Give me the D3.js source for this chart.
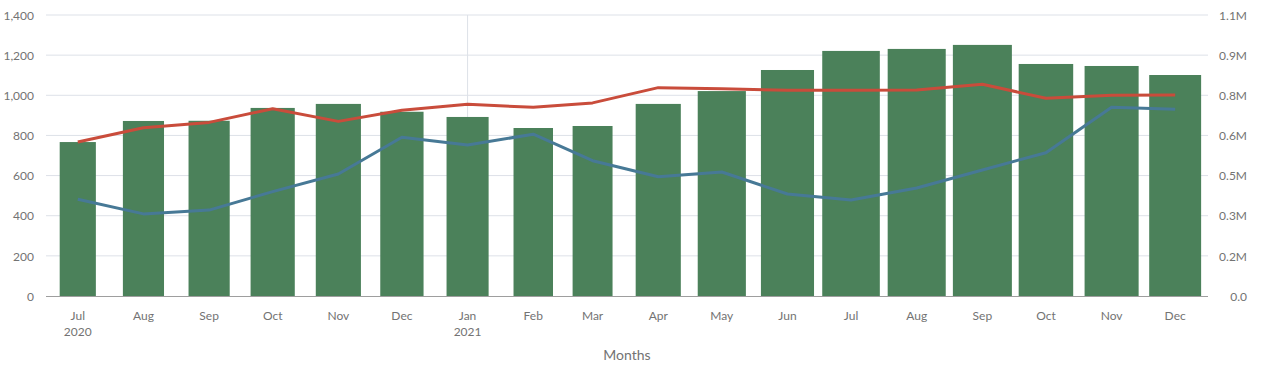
<!DOCTYPE html>
<html>
<head>
<meta charset="utf-8">
<script src="https://cdn.jsdelivr.net/npm/d3@7"></script>
<style>
  body { margin: 0; background: #fff; }
  svg text { font-family: Lato, "Open Sans", sans-serif; fill: #737373; }
</style>
</head>
<body>
<svg id="chart" width="1269" height="384"></svg>
<script>
// months (first day of each month)
const months = ["2020-07", "2020-08", "2020-09", "2020-10", "2020-11", "2020-12",
    "2021-01", "2021-02", "2021-03", "2021-04", "2021-05", "2021-06",
    "2021-07", "2021-08", "2021-09", "2021-10", "2021-11", "2021-12"];

// bar series (left axis), also drives bar width
const barValues = [767, 872, 873, 937, 957, 918, 892, 837, 847, 957, 1021, 1126,
    1221, 1231, 1251, 1156, 1146, 1101];

// red line
const redValues = [767, 838, 865, 933, 870, 925, 955, 940, 962, 1038, 1033, 1025,
    1025, 1026, 1055, 985, 1000, 1001];

// blue line
const blueValues = [482, 409, 428, 520, 608, 791, 752, 806, 674, 594, 618, 508,
    478, 538, 628, 714, 940, 930];

const leftTicks = [0, 200, 400, 600, 800, 1000, 1200, 1400];
const rightMax = 1100000;

const margin = {top: 15, right: 61, bottom: 88, left: 46};
const width = 1269, height = 384;
const parse = d3.timeParse("%Y-%m");
const dates = months.map(parse);
const day = 864e5;

const svg = d3.select("#chart");

const x = d3.scaleTime()
    .domain([new Date(+dates[0] - 15 * day), new Date(+dates[dates.length - 1] + 15.5 * day)])
    .range([margin.left, width - margin.right]);

const y = d3.scaleLinear()
    .domain([0, 1400])
    .range([height - margin.bottom, margin.top]);

const yRight = d3.scaleLinear()
    .domain([0, rightMax])
    .range([height - margin.bottom, margin.top]);

// bar width proportional to value
const w = d3.scaleLinear().domain([0, 1251]).range([0, 59]);

// grid
svg.append("g")
    .selectAll("line")
    .data(leftTicks.slice(1))
    .join("line")
    .attr("x1", margin.left).attr("x2", width - margin.right)
    .attr("y1", d => y(d)).attr("y2", d => y(d))
    .attr("stroke", "#dde1e8").attr("stroke-width", 1);

// year boundary gridline
svg.append("line")
    .attr("x1", x(dates[6])).attr("x2", x(dates[6]))
    .attr("y1", y(1400)).attr("y2", y(0))
    .attr("stroke", "#dde1e8");

// left axis
const leftAxis = svg.append("g")
    .attr("transform", `translate(${margin.left - 12},0)`)
    .call(d3.axisLeft(y).tickValues(leftTicks).tickFormat(d3.format(",")).tickSize(0));
leftAxis.select(".domain").remove();
leftAxis.selectAll("text").attr("font-size", 12).attr("dy", "0.35em").attr("x", 0);

// right axis
const rightTicks = d3.range(8).map(i => rightMax * i / 7);
const rightAxis = svg.append("g")
    .attr("transform", `translate(${width - 22},0)`)
    .call(d3.axisLeft(yRight).tickValues(rightTicks)
        .tickFormat(d => d === 0 ? "0.0" : d3.format(".1f")(d / 1e6) + "M").tickSize(0));
rightAxis.select(".domain").remove();
rightAxis.selectAll("text").attr("font-size", 12).attr("dy", "0.35em").attr("x", 0);

// bars
svg.append("g")
    .attr("fill", "#4b815a")
    .selectAll("rect")
    .data(barValues)
    .join("rect")
    .attr("x", (d, i) => x(dates[i]) - w(d) / 2)
    .attr("width", d => w(d))
    .attr("y", d => y(d))
    .attr("height", d => y(0) - y(d));

// baseline
svg.append("line")
    .attr("x1", margin.left).attr("x2", width - margin.right)
    .attr("y1", y(0) + 0.5).attr("y2", y(0) + 0.5)
    .attr("stroke", "#9e9e9e");

// lines
const line = d3.line()
    .x((d, i) => x(dates[i]))
    .y(d => y(d));

svg.append("path")
    .datum(blueValues)
    .attr("fill", "none")
    .attr("stroke", "#477996")
    .attr("stroke-width", 3)
    .attr("stroke-linejoin", "round")
    .attr("d", line);

svg.append("path")
    .datum(redValues)
    .attr("fill", "none")
    .attr("stroke", "#c94c3b")
    .attr("stroke-width", 3)
    .attr("stroke-linejoin", "round")
    .attr("d", line);

// x labels
const xl = svg.append("g");
xl.selectAll("text.m")
    .data(dates)
    .join("text")
    .attr("class", "m")
    .attr("x", d => x(d))
    .attr("y", 320)
    .attr("text-anchor", "middle")
    .attr("font-size", 12)
    .text(d3.timeFormat("%b"));

xl.selectAll("text.yr")
    .data(dates.filter(d => d.getMonth() === 0 || +d === +dates[0]))
    .join("text")
    .attr("class", "yr")
    .attr("x", d => x(d))
    .attr("y", 336)
    .attr("text-anchor", "middle")
    .attr("font-size", 12)
    .text(d3.timeFormat("%Y"));

svg.append("text")
    .attr("x", (margin.left + width - margin.right) / 2)
    .attr("y", 360)
    .attr("text-anchor", "middle")
    .attr("font-size", 14)
    .text("Months");
</script>
</body>
</html>
